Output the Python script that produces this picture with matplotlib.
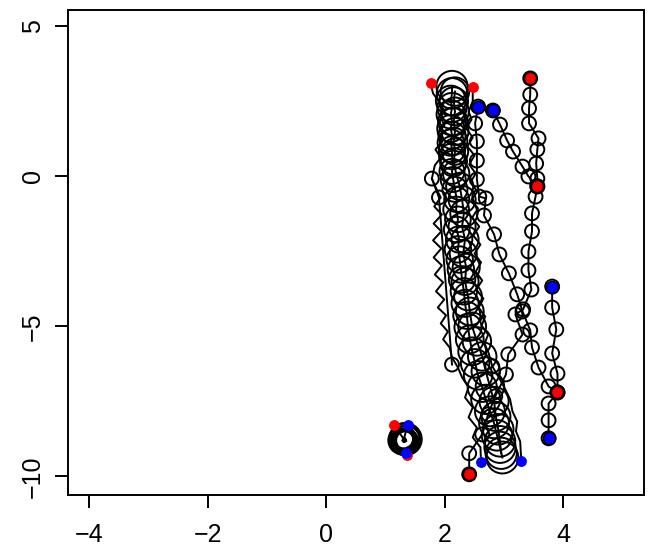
import matplotlib
matplotlib.use("Agg")
import matplotlib.pyplot as plt

plt.rcParams['font.family'] = ['Liberation Sans', 'DejaVu Sans']

# --- track data (x, y, circle size as cex) ---
# two stacked tracks with large circles
big_a_x = [2.12, 2.12, 2.10, 2.12, 2.10, 2.12, 2.10, 2.12, 2.10, 2.12, 2.12, 2.14, 2.12, 2.14,
           2.17, 2.20, 2.19, 2.22, 2.20, 2.24, 2.22, 2.25, 2.27, 2.29, 2.32, 2.34, 2.37, 2.39,
           2.42, 2.46, 2.51, 2.56, 2.63, 2.69, 2.76, 2.83, 2.88, 2.93, 2.97]
big_a_y = [3.00, 2.77, 2.53, 2.30, 2.07, 1.83, 1.60, 1.37, 1.13, 0.90, 0.67, 0.43, 0.17, -0.10,
           -0.43, -0.77, -1.10, -1.43, -1.77, -2.10, -2.43, -2.77, -3.10, -3.43, -3.83, -4.23, -4.63, -5.03,
           -5.43, -5.83, -6.23, -6.63, -7.03, -7.43, -7.83, -8.23, -8.63, -9.03, -9.37]
big_a_cex = [2.25, 2.20, 2.15, 2.10, 2.05, 2.00, 1.95, 1.95, 1.90, 1.90, 1.85, 1.85, 1.80, 1.80,
             1.80, 1.80, 1.85, 1.85, 1.85, 1.90, 1.90, 1.90, 1.90, 1.90, 1.90, 1.95, 1.95, 1.95,
             2.00, 2.00, 2.05, 2.05, 2.10, 2.10, 2.15, 2.15, 2.20, 2.25, 2.30]

big_b_x = [2.17, 2.15, 2.17, 2.15, 2.17, 2.15, 2.17, 2.15, 2.19, 2.25, 2.29, 2.32, 2.29, 2.34,
           2.31, 2.36, 2.34, 2.39, 2.42, 2.46, 2.54, 2.63, 2.69, 2.76, 2.83, 2.86, 2.90, 2.93, 2.95]
big_b_y = [2.83, 2.50, 2.17, 1.83, 1.50, 1.17, 0.83, 0.50, 0.10, -0.33, -0.77, -1.23, -1.67, -2.10,
           -2.57, -3.03, -3.50, -4.00, -4.50, -5.00, -5.50, -6.00, -6.50, -7.00, -7.50, -8.00, -8.43, -8.83, -9.23]
big_b_cex = [2.05, 2.05, 2.00, 2.00, 1.95, 1.95, 1.90, 1.90, 1.90, 1.95, 1.95, 1.95, 1.95, 1.95,
             1.95, 1.95, 1.95, 2.00, 2.00, 2.00, 2.05, 2.05, 2.05, 2.05, 2.10, 2.10, 2.20, 2.20, 2.25]

# tracks with small circles
trk_a_x = [3.44, 3.44, 3.42, 3.42, 3.58, 3.56, 3.54, 3.56, 3.56, 3.53, 3.47, 3.47, 3.41, 3.41,
           3.46, 3.32, 3.19, 3.31, 3.07, 3.03, 2.85, 2.73, 2.63, 2.41, 2.41]
trk_a_y = [3.27, 2.73, 2.27, 1.77, 1.27, 0.90, 0.43, -0.07, -0.33, -0.67, -1.23, -1.83, -2.50, -3.13,
           -3.77, -4.43, -4.60, -5.27, -5.93, -6.60, -7.33, -7.93, -8.60, -9.23, -9.93]

trk_b_x = [2.81, 2.93, 3.05, 3.15, 3.31, 3.41, 3.56]
trk_b_y = [2.20, 1.73, 1.20, 0.83, 0.33, 0.00, -0.33]

trk_c_x = [3.81, 3.81, 3.88, 3.81, 3.90, 3.90, 3.75, 3.75, 3.75]
trk_c_y = [-3.67, -4.37, -5.10, -5.90, -6.57, -7.20, -7.57, -8.13, -8.73]

trk_d_x = [2.56, 2.51, 2.54, 2.54, 2.54, 2.58, 2.69, 2.66, 2.83, 2.92, 3.08, 3.22, 3.31, 3.44,
           3.47, 3.58, 3.75, 3.90]
trk_d_y = [2.33, 1.77, 1.17, 0.53, -0.10, -0.67, -0.73, -1.30, -1.93, -2.60, -3.23, -3.93, -4.50, -5.13,
           -5.70, -6.37, -7.00, -7.20]

# wiggly tracks, only a few fixes drawn as circles
wig_1_x = [1.76, 1.80, 1.90, 1.98, 1.93, 1.99, 1.88, 1.96, 1.84, 1.93, 1.83, 1.78, 1.86, 1.93, 1.82,
           1.95, 1.81, 1.94, 1.80, 1.94, 1.81, 1.95, 1.83, 1.97, 1.85, 1.99, 1.88, 2.02, 1.93, 2.05,
           1.97, 2.08, 2.12, 2.22, 2.29, 2.40, 2.34, 2.47, 2.40, 2.54, 2.47, 2.60, 2.61]
wig_1_y = [3.10, 2.77, 2.50, 2.23, 1.97, 1.70, 1.43, 1.17, 0.90, 0.63, 0.37, -0.07, -0.43, -0.70, -1.00,
           -1.27, -1.57, -1.83, -2.13, -2.40, -2.70, -2.97, -3.27, -3.53, -3.83, -4.10, -4.37, -4.63, -4.90, -5.17,
           -5.43, -5.70, -6.03, -6.37, -6.70, -7.03, -7.37, -7.70, -8.03, -8.37, -8.70, -9.03, -9.53]
wig_1_fix_x = [1.78, 1.90, 2.12]
wig_1_fix_y = [-0.07, -0.70, -6.27]

wig_2_x = [2.47, 2.47, 2.40, 2.45, 2.36, 2.47, 2.38, 2.50, 2.41, 2.52, 2.43, 2.55, 2.45, 2.56, 2.46,
           2.58, 2.48, 2.60, 2.50, 2.61, 2.52, 2.63, 2.53, 2.65, 2.57, 2.68, 2.62, 2.73, 2.67, 2.74,
           2.80, 2.92, 3.02, 3.10, 3.14, 3.22, 3.20, 3.27, 3.29]
wig_2_y = [2.97, 2.50, 2.17, 1.90, 1.60, 1.30, 1.00, 0.70, 0.40, 0.10, -0.20, -0.50, -0.77, -1.07, -1.37,
           -1.67, -1.97, -2.27, -2.57, -2.87, -3.17, -3.47, -3.77, -4.07, -4.37, -4.67, -4.97, -5.27, -5.57, -5.90,
           -6.33, -6.73, -7.10, -7.43, -7.83, -8.17, -8.50, -8.83, -9.50]
wig_2_fix_x = [2.80]
wig_2_fix_y = [-6.33]

# small looping track near (1.3, -8.8)
loop_x = [1.14, 1.30, 1.33, 1.35, 1.31, 1.28, 1.32, 1.34, 1.30, 1.29, 1.33, 1.31, 1.29, 1.34, 1.32, 1.30, 1.37]
loop_y = [-8.27, -8.74, -8.78, -8.82, -8.86, -8.80, -8.72, -8.76, -8.84, -8.78, -8.80, -8.76, -8.82, -8.79, -8.74, -8.81, -8.30]
loop_cex = [0, 1.40, 1.55, 1.70, 1.85, 2.00, 2.15, 2.30, 1.65, 1.95, 1.30, 1.50, 1.75, 2.05, 2.20, 1.45, 0]

# start (red) / end (blue) markers
red_ring_x = [3.44, 3.56, 3.90, 2.41]
red_ring_y = [3.27, -0.33, -7.20, -9.93]
blue_ring_x = [2.56, 2.81, 3.81, 3.75]
blue_ring_y = [2.33, 2.20, -3.67, -8.73]
red_dot_x = [1.76, 2.47, 1.14, 1.36]
red_dot_y = [3.10, 2.97, -8.27, -9.30]
blue_dot_x = [2.61, 3.29, 1.37, 1.34]
blue_dot_y = [-9.53, -9.50, -8.30, -9.23]

BASE_MS = 10.0  # marker diameter (pt) for cex = 1
LW = 1.4

fig = plt.figure(figsize=(6.48, 5.54), dpi=100)
ax = fig.add_axes([68 / 648, (554 - 495) / 554, (644 - 68) / 648, (495 - 10) / 554])


def track(xs, ys, cex=None, circles=True):
    ax.plot(xs, ys, color='black', lw=LW, zorder=2)
    if circles:
        if cex is None:
            cex = [1.0] * len(xs)
        sizes = [(c * BASE_MS) ** 2 for c in cex]
        ax.scatter(xs, ys, s=sizes, facecolors='none', edgecolors='black',
                   linewidths=LW, zorder=3)


track(big_a_x, big_a_y, big_a_cex)
track(big_b_x, big_b_y, big_b_cex)
track(wig_1_x, wig_1_y, circles=False)
track(wig_1_fix_x, wig_1_fix_y)
track(wig_2_x, wig_2_y, circles=False)
track(wig_2_fix_x, wig_2_fix_y)
track(trk_a_x, trk_a_y)
track(trk_b_x, trk_b_y)
track(trk_c_x, trk_c_y)
track(trk_d_x, trk_d_y)
track(loop_x, loop_y, loop_cex)

ax.plot(red_ring_x, red_ring_y, 'o', ms=8.8, mfc='red', mec='black', mew=1.1, ls='none', zorder=5)
ax.plot(blue_ring_x, blue_ring_y, 'o', ms=8.8, mfc='blue', mec='black', mew=1.1, ls='none', zorder=5)
ax.plot(red_dot_x, red_dot_y, 'o', ms=6.8, color='red', ls='none', zorder=5)
ax.plot(blue_dot_x, blue_dot_y, 'o', ms=6.8, color='blue', ls='none', zorder=5)

ax.set_xlim(-4.36, 5.36)
ax.set_ylim(-10.62, 5.55)
ax.set_xticks([-4, -2, 0, 2, 4])
ax.set_yticks([-10, -5, 0, 5])
ax.set_xticklabels(['\u22124', '\u22122', '0', '2', '4'])
ax.set_yticklabels(['\u221210', '\u22125', '0', '5'], rotation=90, va='center')
ax.tick_params(axis='both', length=9.4, width=LW, labelsize=18)
ax.tick_params(axis='x', pad=11)
ax.tick_params(axis='y', pad=7)
for sp in ax.spines.values():
    sp.set_linewidth(LW)

fig.savefig('out.png', dpi=100)
